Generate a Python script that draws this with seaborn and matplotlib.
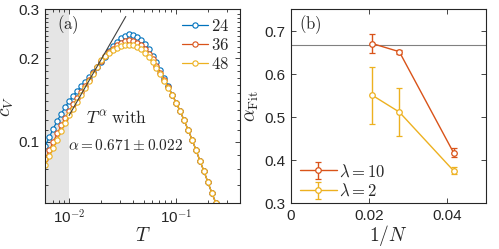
import numpy as np
import matplotlib
matplotlib.use("Agg")
import matplotlib.pyplot as plt
from matplotlib.ticker import FixedLocator, NullFormatter
import seaborn as sns

# (a) specific heat c_V(T) for three system sizes
T = [0.00600, 0.00654, 0.00712, 0.00776, 0.00845, 0.00921, 0.01003, 0.01092,
     0.01190, 0.01296, 0.01412, 0.01539, 0.01676, 0.01826, 0.01989, 0.02167,
     0.02360, 0.02571, 0.02801, 0.03051, 0.03324, 0.03621, 0.03945, 0.04297,
     0.04681, 0.05099, 0.05556, 0.06051, 0.06592, 0.07181, 0.07816, 0.08516,
     0.09276, 0.1010, 0.1101, 0.1199, 0.1306, 0.1423, 0.1550, 0.1688,
     0.1839, 0.2003, 0.2183, 0.2377]
cv_24 = [0.0970, 0.1042, 0.1117, 0.1191, 0.1265, 0.1337, 0.1403, 0.1466, 0.1524, 0.1585,
         0.1648, 0.1714, 0.1786, 0.1862, 0.1941, 0.2028, 0.2118, 0.2208, 0.2291, 0.2360,
         0.2410, 0.2443, 0.2427, 0.2388, 0.2328, 0.2249, 0.2153, 0.2046, 0.1932, 0.1811,
         0.1694, 0.1585, 0.1479, 0.1382, 0.1287, 0.1194, 0.1104, 0.1017, 0.0933, 0.0852,
         0.0783, 0.0714, 0.0653, 0.0601]
cv_36 = [0.0870, 0.0933, 0.1000, 0.1073, 0.1146, 0.1220, 0.1294, 0.1365, 0.1436, 0.1514,
         0.1592, 0.1677, 0.1766, 0.1859, 0.1959, 0.2032, 0.2100, 0.2165, 0.2225, 0.2270,
         0.2306, 0.2323, 0.2309, 0.2280, 0.2226, 0.2158, 0.2075, 0.1982, 0.1882, 0.1777,
         0.1673, 0.1574, 0.1476, 0.1381, 0.1287, 0.1194, 0.1104, 0.1017, 0.0933, 0.0852,
         0.0783, 0.0714, 0.0653, 0.0601]
cv_48 = [0.0828, 0.0887, 0.0951, 0.1019, 0.1091, 0.1167, 0.1245, 0.1318, 0.1396, 0.1479,
         0.1567, 0.1660, 0.1754, 0.1858, 0.1968, 0.2032, 0.2089, 0.2138, 0.2183, 0.2213,
         0.2234, 0.2239, 0.2228, 0.2203, 0.2158, 0.2099, 0.2023, 0.1941, 0.1849, 0.1754,
         0.1660, 0.1567, 0.1470, 0.1380, 0.1287, 0.1194, 0.1104, 0.1017, 0.0933, 0.0852,
         0.0783, 0.0714, 0.0653, 0.0601]
sizes = ['24', '36', '48']

# power law fit T^alpha
alpha_fit = 0.671
alpha_err = 0.022
fit_amp = 0.1245          # c_V at T = 0.01
fit_T = [0.01, 0.034]
shade_T = [0.006, 0.01]

# (b) fitted exponent vs 1/N
inv_N = [1/48, 1/36, 1/24]
alpha_lam10 = [0.671, 0.652, 0.418]
err_lam10 = [0.022, 0.005, 0.011]
alpha_lam2 = [0.551, 0.512, 0.376]
err_lam2 = [0.066, 0.055, 0.008]

colors = ['#0072BD', '#D95319', '#EDB120']
axcol = '#262626'

sns.set_style('ticks')
plt.rcParams['font.family'] = ['Liberation Sans', 'DejaVu Sans']
plt.rcParams['mathtext.fontset'] = 'cm'
plt.rcParams['axes.edgecolor'] = axcol
plt.rcParams['axes.linewidth'] = 0.8

fig = plt.figure(figsize=(4.99, 2.49), dpi=100)
ax = fig.add_axes([0.091, 0.183, 0.390, 0.779])
ax2 = fig.add_axes([0.583, 0.183, 0.391, 0.779])

# ---- panel (a)
ax.axvspan(shade_T[0], shade_T[1], color='#E5E5E5', lw=0, zorder=0)
for cv, lab, c in zip([cv_24, cv_36, cv_48], sizes, colors):
    sns.lineplot(x=T, y=cv, ax=ax, color=c, marker='o', markersize=3.8,
                 markerfacecolor='white', markeredgecolor=c, markeredgewidth=0.8,
                 linewidth=0.9, label='$\\mathrm{' + lab + '}$')
Tf = np.array(fit_T)
ax.plot(Tf, fit_amp * (Tf / 0.01) ** alpha_fit, color='#404040', lw=0.8, zorder=5)

ax.set_xscale('log')
ax.set_yscale('log')
ax.set_xlim(0.006, 0.4)
ax.set_ylim(0.06, 0.3)
ax.xaxis.set_major_locator(FixedLocator([0.01, 0.1]))
ax.set_xticklabels(['10$^{\\mathsf{-2}}$', '10$^{\\mathsf{-1}}$'])
ax.xaxis.set_minor_locator(FixedLocator(
    [k * 0.001 for k in range(6, 10)] + [k * 0.01 for k in range(2, 10)] + [0.2, 0.3]))
ax.xaxis.set_minor_formatter(NullFormatter())
ax.yaxis.set_major_locator(FixedLocator([0.1, 0.2, 0.3]))
ax.set_yticklabels(['0.1', '0.2', '0.3'])
ax.yaxis.set_minor_locator(FixedLocator(
    [k * 0.01 for k in range(6, 10)] + [k * 0.01 for k in range(11, 20)] + [k * 0.01 for k in range(21, 30)]))
ax.yaxis.set_minor_formatter(NullFormatter())

ax.set_xlabel('$T$', fontsize=14, labelpad=0)
ax.set_ylabel('$c_V$', fontsize=14, labelpad=2)
ax.text(0.06, 0.92, '$\\mathrm{(a)}$', transform=ax.transAxes, fontsize=12, va='center')
ax.text(0.21, 0.44, '$T^{\\alpha}$ $\\mathrm{with}$', transform=ax.transAxes,
        fontsize=12.5, va='center')
ax.text(0.115, 0.30, '$\\alpha = %.3f \\pm %.3f$' % (alpha_fit, alpha_err),
        transform=ax.transAxes, fontsize=11, va='center')
ax.legend(loc='upper right', bbox_to_anchor=(0.96, 0.975), frameon=False,
          fontsize=12, handlelength=1.6, handletextpad=0.15, labelspacing=0.2,
          borderaxespad=0, borderpad=0.2)

# ---- panel (b)
ax2.axhline(2 / 3, color='#808080', lw=0.8, zorder=1)
ax2.errorbar(inv_N, alpha_lam10, yerr=err_lam10, color=colors[1], marker='o',
             ms=4, mfc='white', mew=0.9, lw=1.0, capsize=2.2, capthick=0.9,
             label='$\\lambda = 10$')
ax2.errorbar(inv_N, alpha_lam2, yerr=err_lam2, color=colors[2], marker='o',
             ms=4, mfc='white', mew=0.9, lw=1.0, capsize=2.2, capthick=0.9,
             label='$\\lambda = 2$')
ax2.set_xlim(0, 0.05)
ax2.set_ylim(0.3, 0.75)
ax2.set_xticks([0, 0.02, 0.04])
ax2.set_xticklabels(['0', '0.02', '0.04'])
ax2.set_yticks([0.3, 0.4, 0.5, 0.6, 0.7])
ax2.set_yticklabels(['0.3', '0.4', '0.5', '0.6', '0.7'])
ax2.set_xlabel('$1/N$', fontsize=14, labelpad=0)
ax2.set_ylabel('$\\alpha_{\\rm Fit}$', fontsize=14, labelpad=2)
ax2.text(0.04, 0.92, '$\\mathrm{(b)}$', transform=ax2.transAxes, fontsize=12, va='center')
ax2.legend(loc='lower left', bbox_to_anchor=(0.03, 0.005), frameon=False,
           fontsize=12, handlelength=2.2, handletextpad=0.15, labelspacing=0.2,
           borderaxespad=0, borderpad=0.2)

for a in (ax, ax2):
    a.tick_params(which='both', direction='in', top=True, right=True,
                  color=axcol, labelcolor=axcol, labelsize=11, width=0.6)
    a.tick_params(which='major', length=3.5, pad=4)
    a.tick_params(which='minor', length=2)

fig.savefig('out.png', dpi=100)
